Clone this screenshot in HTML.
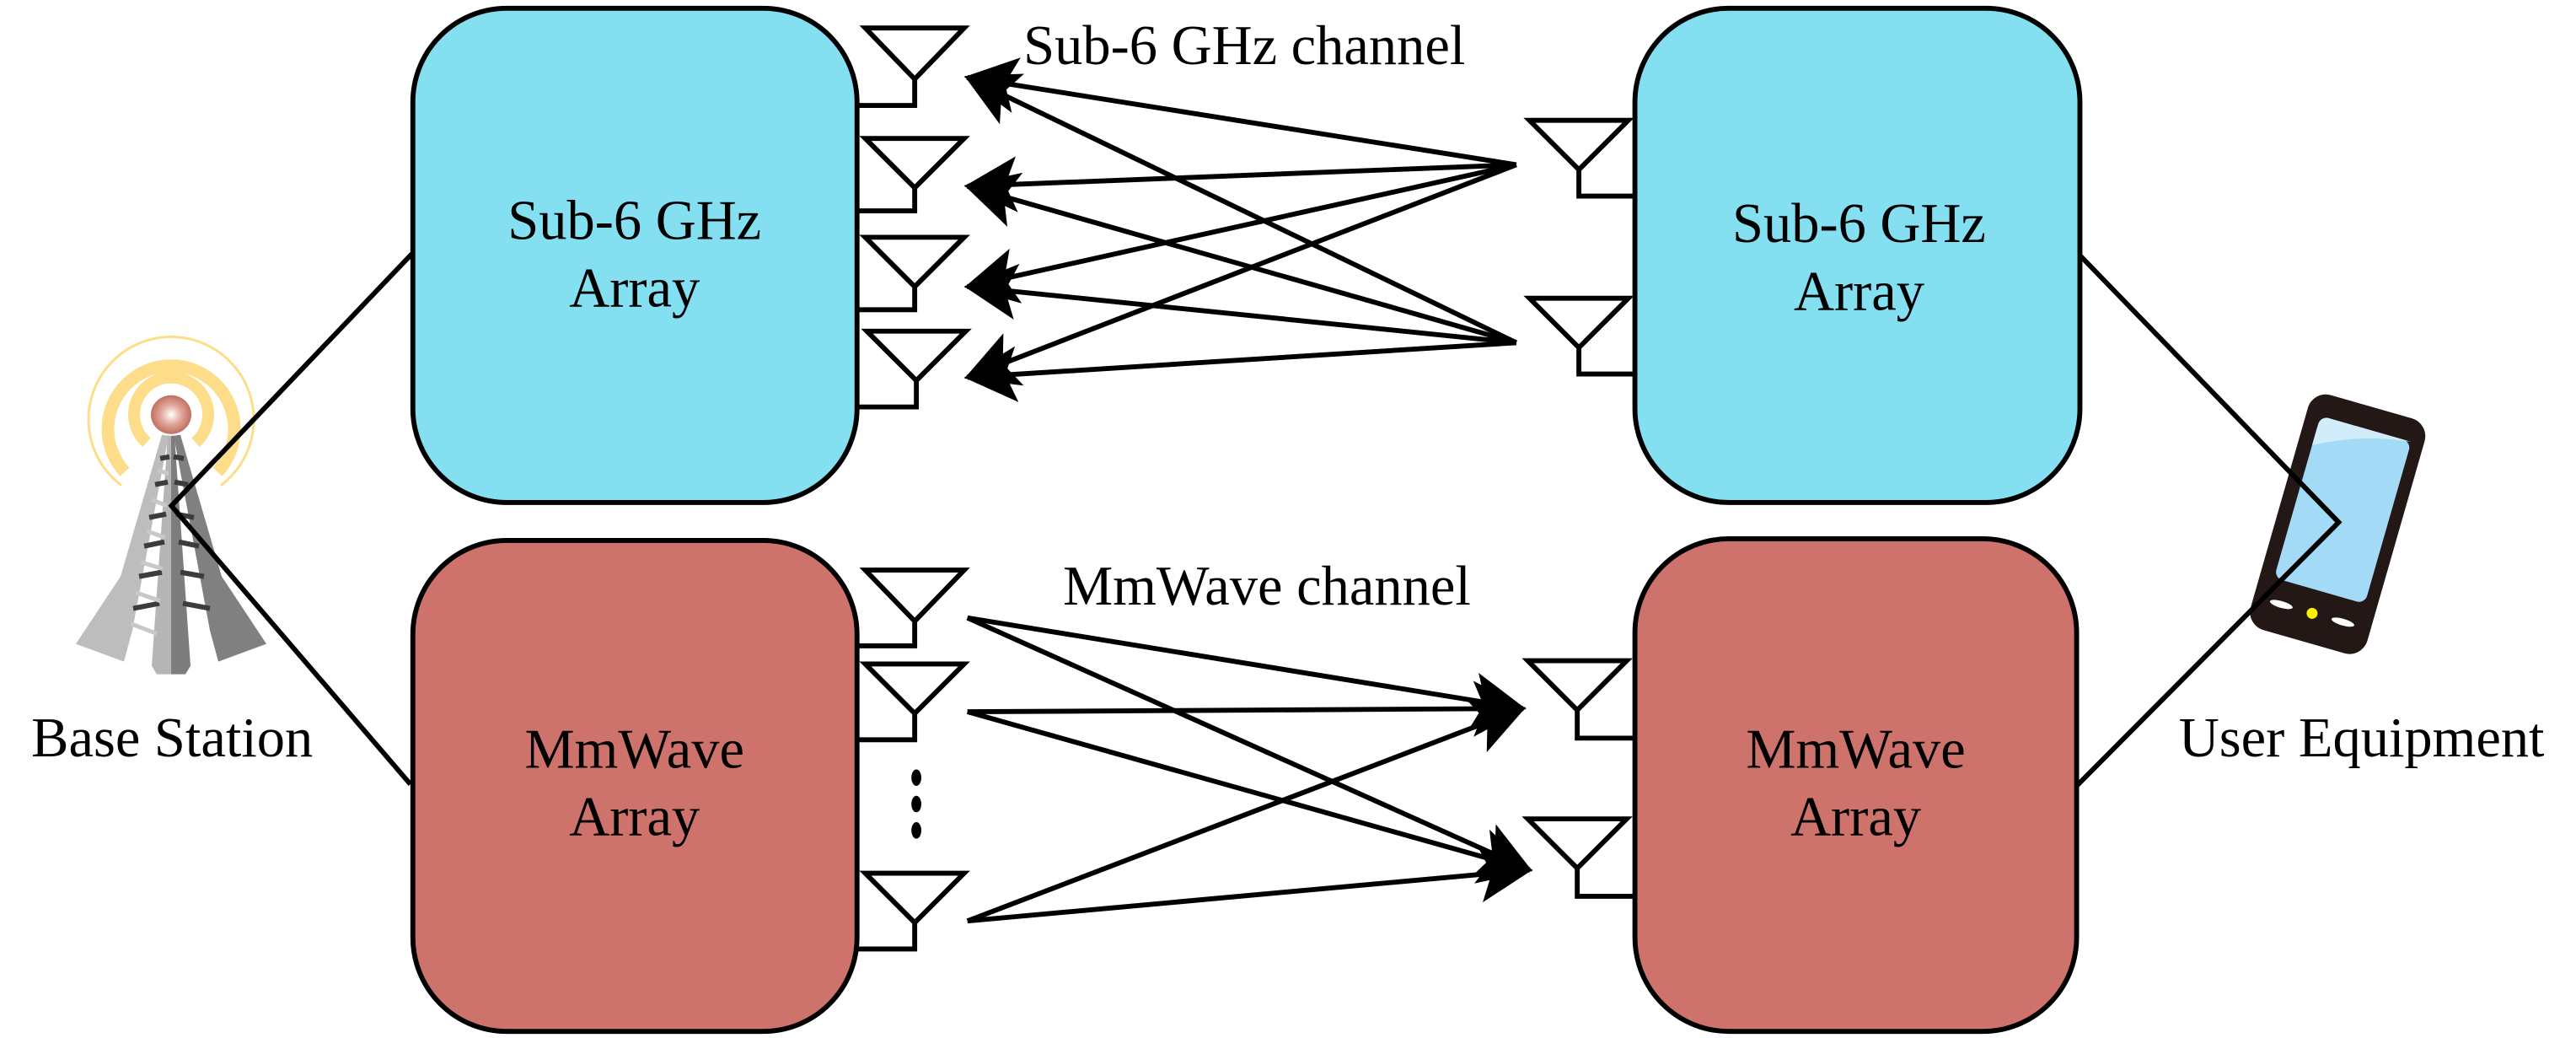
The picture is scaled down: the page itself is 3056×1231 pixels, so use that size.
<!DOCTYPE html>
<html><head><meta charset="utf-8"><style>
html,body{margin:0;padding:0;background:#fff;}
svg{display:block;}
text{font-family:"Liberation Serif",serif;fill:#000;}
</style></head><body>
<svg width="3056" height="1231" viewBox="0 0 1563 630" preserveAspectRatio="none" xmlns="http://www.w3.org/2000/svg">
<defs>
<marker id="ah" markerUnits="userSpaceOnUse" markerWidth="40" markerHeight="40" viewBox="-32 -20 36 40" refX="0" refY="0" orient="auto">
<path d="M2,0 L-30,-17 L-23,0 L-30,17 Z" fill="#000"/>
</marker>
<radialGradient id="ball" cx="0.5" cy="0.5" r="0.5">
<stop offset="0" stop-color="#fff"/><stop offset="0.5" stop-color="#e3a89c"/><stop offset="1" stop-color="#c0705f"/>
</radialGradient>
</defs>

<!-- Boxes -->
<rect x="250.5" y="5" width="269.5" height="300" rx="57" ry="57" fill="#84DFF0" stroke="#000" stroke-width="3"/>
<rect x="250.5" y="328" width="269.5" height="298" rx="57" ry="57" fill="#CD736B" stroke="#000" stroke-width="3"/>
<rect x="992" y="5" width="270" height="300" rx="57" ry="57" fill="#84DFF0" stroke="#000" stroke-width="3"/>
<rect x="992" y="327" width="268" height="299" rx="57" ry="57" fill="#CD736B" stroke="#000" stroke-width="3"/>

<g font-size="34" text-anchor="middle">
<text x="385" y="145">Sub-6 GHz</text><text x="385" y="186">Array</text>
<text x="1128" y="147">Sub-6 GHz</text><text x="1128" y="188">Array</text>
<text x="385" y="466">MmWave</text><text x="385" y="507">Array</text>
<text x="1126" y="466">MmWave</text><text x="1126" y="507">Array</text>
</g>
<g font-size="34">
<text x="621" y="39">Sub-6 GHz channel</text>
<text x="645" y="367">MmWave channel</text>
<text x="19" y="459">Base Station</text>
<text x="1322" y="459">User Equipment</text>
</g>

<!-- Left antennas -->
<g fill="none" stroke="#000" stroke-width="3" stroke-linejoin="miter">
<path d="M525,17 L585,17 L555,48 Z M555,48 L555,64 L520,64"/>
<path d="M525,84 L585,84 L555,114 Z M555,114 L555,128 L520,128"/>
<path d="M525,144 L585,144 L555,174 Z M555,174 L555,188 L520,188"/>
<path d="M526,201 L586,201 L556,231 Z M556,231 L556,247 L520,247"/>
<path d="M525,346 L585,346 L555,377 Z M555,377 L555,392 L520,392"/>
<path d="M525,403 L585,403 L555,433 Z M555,433 L555,449 L520,449"/>
<path d="M525,530 L585,530 L555,560 Z M555,560 L555,576 L520,576"/>
<!-- right antennas -->
<path d="M928,73 L988,73 L958,103 Z M958,103 L958,119 L992,119"/>
<path d="M928,181 L988,181 L958,211 Z M958,211 L958,227 L992,227"/>
<path d="M927,401 L987,401 L957,431 Z M957,431 L957,448 L992,448"/>
<path d="M927,497 L987,497 L957,527 Z M957,527 L957,544 L992,544"/>
</g>
<g fill="#000"><ellipse cx="556" cy="472" rx="3" ry="5"/><ellipse cx="556" cy="488" rx="3" ry="5"/><ellipse cx="556" cy="504" rx="3" ry="5"/></g>

<!-- Sub6 arrows -->
<g stroke="#000" stroke-width="3" marker-end="url(#ah)">
<line x1="920" y1="100" x2="587" y2="47"/>
<line x1="920" y1="100" x2="587" y2="113"/>
<line x1="920" y1="100" x2="587" y2="174"/>
<line x1="920" y1="100" x2="587" y2="229"/>
<line x1="920" y1="208" x2="587" y2="47"/>
<line x1="920" y1="208" x2="587" y2="113"/>
<line x1="920" y1="208" x2="587" y2="174"/>
<line x1="920" y1="208" x2="587" y2="229"/>
<!-- mm arrows -->
<line x1="587" y1="375" x2="924" y2="430"/>
<line x1="587" y1="375" x2="928" y2="528"/>
<line x1="587" y1="432" x2="924" y2="430"/>
<line x1="587" y1="432" x2="928" y2="528"/>
<line x1="587" y1="559" x2="924" y2="430"/>
<line x1="587" y1="559" x2="928" y2="528"/>
</g>

<!-- Tower (real coords) -->
<g transform="scale(0.5115)">
<g fill="none" stroke="#FDDC8A">
<path d="M174,525 A44,44 0 1 1 232,525" stroke-width="14"/>
<path d="M148,560 A75,75 0 1 1 258,560" stroke-width="15"/>
<path d="M144,576 A98,98 0 1 1 262,576" stroke-width="3"/>
</g>
<polygon points="192,516 200,517 157,748 147,785 90,764 143,684" fill="#bdbdbd"/>
<polygon points="214,516 206,517 249,748 259,785 316,764 263,684" fill="#808080"/>
<polygon points="199,517 180,790 186,800 203,800 203,517" fill="#b5b5b5"/>
<polygon points="207,517 226,790 220,800 203,800 203,517" fill="#7d7d7d"/>
<g stroke="#3c3c3c" stroke-width="6">
<line x1="190" y1="544" x2="201" y2="542"/><line x1="206" y1="542" x2="218" y2="544"/>
<line x1="184" y1="575" x2="199" y2="572"/><line x1="207" y1="572" x2="223" y2="575"/>
<line x1="177" y1="614" x2="197" y2="610"/><line x1="209" y1="610" x2="230" y2="614"/>
<line x1="171" y1="648" x2="195" y2="643"/><line x1="212" y1="643" x2="236" y2="648"/>
<line x1="165" y1="684" x2="192" y2="679"/><line x1="214" y1="679" x2="242" y2="684"/>
<line x1="158" y1="722" x2="189" y2="716"/><line x1="217" y1="716" x2="249" y2="722"/>
</g>
<g stroke="#c8c8c8" stroke-width="5">
<line x1="187" y1="558" x2="200" y2="562"/><line x1="180" y1="593" x2="198" y2="600"/>
<line x1="174" y1="630" x2="196" y2="638"/><line x1="167" y1="667" x2="193" y2="675"/>
<line x1="161" y1="703" x2="190" y2="713"/><line x1="155" y1="740" x2="186" y2="752"/>
</g>
<ellipse cx="203" cy="492" rx="24" ry="23" fill="url(#ball)"/>
</g>

<!-- Phone (real coords) -->
<g transform="scale(0.5115)">
<g transform="translate(2773,622) rotate(16)">
<rect x="-72" y="-145" width="144" height="290" rx="22" fill="#231815"/>
<rect x="-55" y="-118" width="112" height="200" rx="10" fill="#A3DAF5"/>
<path d="M-55,-82 C-20,-100 10,-112 57,-118 L-45,-118 C-52,-118 -55,-112 -55,-100 Z" fill="#D3ECF9"/>
<ellipse cx="-38" cy="110" rx="14" ry="4" fill="#fff"/>
<ellipse cx="38" cy="110" rx="14" ry="4" fill="#fff"/>
<circle cx="0" cy="110" r="7" fill="#FFF000" stroke="#231815" stroke-width="1"/>
</g>
</g>

<!-- Connection lines -->
<g fill="none" stroke="#000" stroke-width="3">
<polyline points="250,154 104,307 249,476"/>
<polyline points="1262,155 1419,317 1260,477"/>
</g>
</svg>
</body></html>
